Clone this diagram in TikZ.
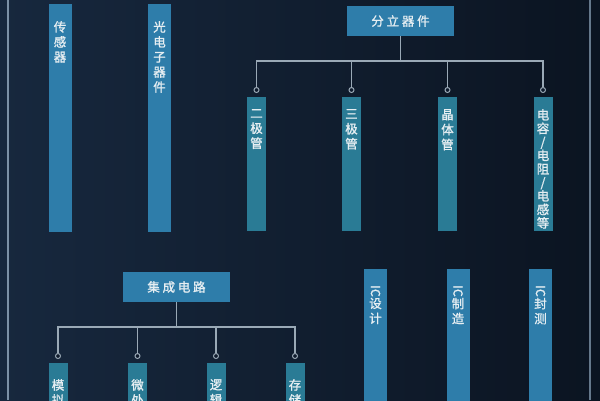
\documentclass[tikz,border=0pt]{standalone}
\usepackage{fontspec}
\setmainfont{Noto Sans CJK SC}[FakeBold=1.2]
\newfontfamily\boxfont[LetterSpace=22,FakeBold=1.2]{Noto Sans CJK SC}
\usetikzlibrary{positioning}
\definecolor{bg}{HTML}{0F1B2D}
\definecolor{bgl}{HTML}{17283E}
\definecolor{bgr}{HTML}{0B1421}
\definecolor{barblue}{HTML}{2E7DAA}
\definecolor{barteal}{HTML}{2A7B95}
\definecolor{wire}{HTML}{9AA9B6}
\definecolor{rail}{HTML}{7C91A6}
\definecolor{ink}{HTML}{E6EEF2}
\tikzset{
  bar/.style={fill=barblue, inner sep=0pt, anchor=north, minimum width=23pt},
  tbar/.style={bar, fill=barteal, minimum width=19pt},
  vtxt/.style={text=ink, font=\fontsize{12.5}{15}\selectfont, align=center, inner sep=0pt},
  box/.style={fill=barblue, text=ink, minimum width=107pt, minimum height=30pt,
    inner sep=0pt, font=\boxfont\fontsize{12.5}{15}\selectfont},
  link/.style={draw=wire, line width=1.2pt},
  dot/.style={circle, draw=wire, fill=bg, line width=1pt, inner sep=0pt, minimum size=5pt},
  side/.style={draw=rail, line width=1.5pt}
}
\begin{document}
\begin{tikzpicture}[x=1pt,y=-1pt]
  \useasboundingbox (0,0) rectangle (600,400);
  \clip (0,0) rectangle (600,400);
  \fill[left color=bgl, middle color=bg, right color=bgr] (0,0) rectangle (600,400);

  % side rails
  \coordinate (lt) at (8,0);   \coordinate (lb) at (8,400);
  \coordinate (rt) at (590,0); \coordinate (rb) at (590,400);
  \draw[side] (lt) -- (lb);
  \draw[side, opacity=0.8] (rt) -- (rb);

  % standalone columns
  \node[bar, minimum height=228pt] (s1) at (60,4) {};
  \node[vtxt, below=17pt of s1.north] {传\\感\\器};
  \node[bar, minimum height=228pt] (s2) at (159.5,4) {};
  \node[vtxt, below=17pt of s2.north] {光\\电\\子\\器\\件};

  % discrete devices
  \node[box] (fl) at (400.5,21) {分立器件};
  \coordinate (fj) at (400.5,61);
  \node[dot] (c1) at (256.5,90) {};
  \node[dot] (c2) at (351.5,90) {};
  \node[dot] (c3) at (447.5,90) {};
  \node[dot] (c4) at (543,90) {};
  \draw[link] (fl.south) -- (fj);
  \draw[link] (c1) |- (fj) -| (c4);
  \foreach \n in {c2,c3} \draw[link] (\n) -- (\n |- fj);

  \node[tbar, minimum height=134pt] (d1) at (256.5,97) {};
  \node[vtxt, below=12pt of d1.north] {二\\极\\管};
  \node[tbar, minimum height=134pt] (d2) at (351.5,97) {};
  \node[vtxt, below=12pt of d2.north] {三\\极\\管};
  \node[tbar, minimum height=134pt] (d3) at (447.5,97) {};
  \node[vtxt, below=12pt of d3.north] {晶\\体\\管};
  \node[tbar, minimum height=134pt] (d4) at (543,97) {};
  \node[vtxt, font=\fontsize{12.5}{13.5}\selectfont, below=12pt of d4.north]
    {电\\容\\/\\电\\阻\\/\\电\\感\\等};

  % integrated circuits
  \node[box] (jc) at (176.5,287) {集成电路};
  \coordinate (jj) at (176.5,327);
  \node[dot] (e1) at (58,356) {};
  \node[dot] (e2) at (137.5,356) {};
  \node[dot] (e3) at (216,356) {};
  \node[dot] (e4) at (295,356) {};
  \draw[link] (jc.south) -- (jj);
  \draw[link] (e1) |- (jj) -| (e4);
  \foreach \n in {e2,e3} \draw[link] (\n) -- (\n |- jj);

  \node[tbar, minimum height=50pt] (m1) at (58,363) {};
  \node[vtxt, below=16pt of m1.north] {模\\拟};
  \node[tbar, minimum height=50pt] (m2) at (137.5,363) {};
  \node[vtxt, below=16pt of m2.north] {微\\处};
  \node[tbar, minimum height=50pt] (m3) at (216,363) {};
  \node[vtxt, below=16pt of m3.north] {逻\\辑};
  \node[tbar, minimum height=50pt] (m4) at (295,363) {};
  \node[vtxt, below=16pt of m4.north] {存\\储};

  % IC chain
  \node[bar, minimum height=140pt] (i1) at (375.5,269) {};
  \node[vtxt, below=16pt of i1.north] {\rotatebox{-90}{IC}\\设\\计};
  \node[bar, minimum height=140pt] (i2) at (458,269) {};
  \node[vtxt, below=16pt of i2.north] {\rotatebox{-90}{IC}\\制\\造};
  \node[bar, minimum height=140pt] (i3) at (540.5,269) {};
  \node[vtxt, below=16pt of i3.north] {\rotatebox{-90}{IC}\\封\\测};
\end{tikzpicture}
\end{document}
